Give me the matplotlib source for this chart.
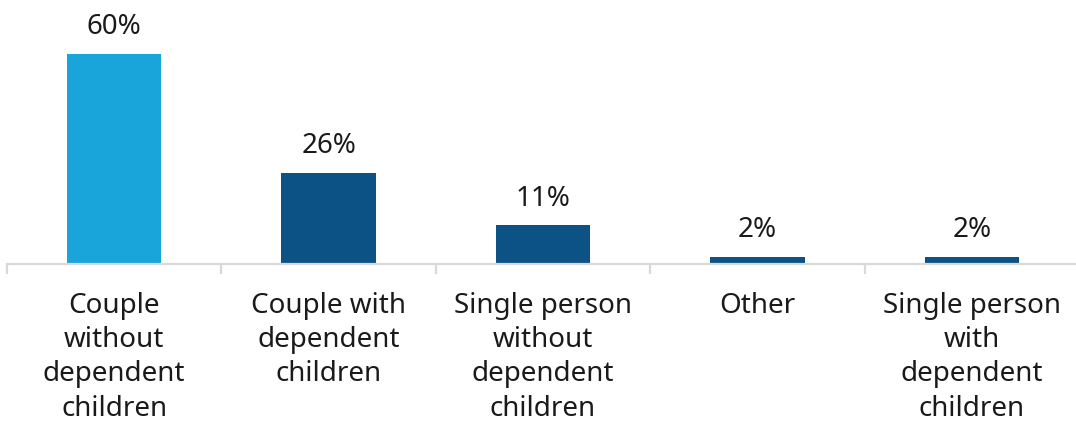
import matplotlib.pyplot as plt
import numpy as np

categories = ["Couple\nwithout\ndependent\nchildren",
              "Couple with\ndependent\nchildren",
              "Single person\nwithout\ndependent\nchildren",
              "Other",
              "Single person\nwith\ndependent\nchildren"]
shares = [60, 26, 11, 2, 2]
bar_colors = ["#1aa5da", "#0c5285", "#0c5285", "#0c5285", "#0c5285"]

plt.rcParams['font.family'] = ['Noto Sans', 'DejaVu Sans']

fig = plt.figure(figsize=(10.76, 4.25), dpi=100)
ax = fig.add_axes([7 / 1076, 161 / 425, 1072 / 1076, 264 / 425])

x = np.arange(len(categories))
bars = ax.bar(x, shares, width=0.44, color=bar_colors, zorder=2)

for rect, val in zip(bars, shares):
    ax.annotate(f"{val}%", (rect.get_x() + rect.get_width() / 2, rect.get_height()),
                xytext=(0, 9), textcoords="offset points",
                ha="center", va="bottom", fontsize=20, color="#1a1a1a")

ax.set_xlim(-0.5, len(categories) - 0.5)
ax.set_ylim(0, 75.4)

ax.set_xticks(x)
ax.set_xticklabels(categories, fontsize=20, color="#1a1a1a", linespacing=1.3)
ax.tick_params(axis="x", which="major", length=0, pad=20)
ax.set_xticks(np.arange(len(categories) + 1) - 0.5, minor=True)
ax.tick_params(axis="x", which="minor", length=7.5, width=1.6, color="#d9d9d9")

ax.set_yticks([])
for side in ["top", "right", "left"]:
    ax.spines[side].set_visible(False)
ax.spines["bottom"].set_color("#d9d9d9")
ax.spines["bottom"].set_linewidth(1.6)

fig.savefig("out.png", dpi=100)
